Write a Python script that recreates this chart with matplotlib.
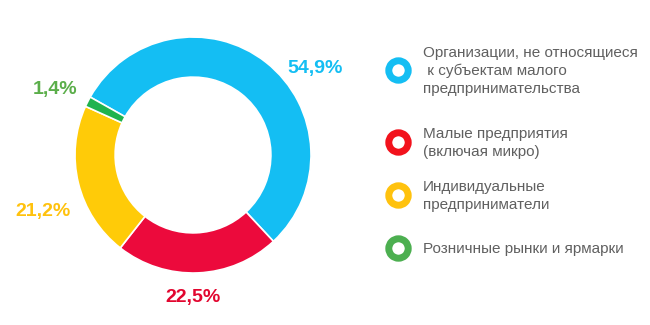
import matplotlib.pyplot as plt
from matplotlib.lines import Line2D

plt.rcParams['font.family'] = ['Liberation Sans', 'DejaVu Sans']

categories = [
    "Организации, не относящиеся\n к субъектам малого\nпредпринимательства",
    "Малые предприятия\n(включая микро)",
    "Индивидуальные\nпредприниматели",
    "Розничные рынки и ярмарки",
]
shares = [54.9, 22.5, 21.2, 1.4]
share_labels = ["54,9%", "22,5%", "21,2%", "1,4%"]
colors = ['#14BEF3', '#EC0A3C', '#FFCB08', '#1FB34E']
legend_colors = ['#14BEF3', '#F2121C', '#FFC20E', '#4CAF50']
label_colors = ['#14BEF3', '#E2062F', '#FFC20E', '#5BAE4A']
# label positions in figure fractions (placed by hand as in the original)
label_pos = [(0.485, 0.79), (0.297, 0.085), (0.066, 0.348), (0.085, 0.725)]
# legend rows: marker centre, in pixels from the top
legend_rows = [70, 142, 195, 248]

W, H = 650, 325
fig = plt.figure(figsize=(6.5, 3.25), dpi=100)

# donut
w = 236 / W
h = 236 / H
ax = fig.add_axes([193 / W - w / 2, 1 - 155 / H - h / 2, w, h])
ax.pie(shares, colors=colors, startangle=150.6, counterclock=False,
       radius=1.0, wedgeprops=dict(width=0.34, edgecolor='white', linewidth=1.2))
ax.set_xlim(-1.0, 1.0)
ax.set_ylim(-1.0, 1.0)
ax.set_aspect('equal')
ax.axis('off')

for txt, (x, y), c in zip(share_labels, label_pos, label_colors):
    fig.text(x, y, txt, color=c, fontsize=14, fontweight='bold',
             ha='center', va='center')

# legend drawn by hand: ring marker + text
for label, c, yp in zip(categories, legend_colors, legend_rows):
    fig.add_artist(Line2D([398 / W], [1 - yp / H], transform=fig.transFigure,
                          linestyle='none', marker='o', markersize=14,
                          markerfacecolor='white', markeredgecolor=c,
                          markeredgewidth=5))
    fig.text(423 / W, 1 - (yp + 1) / H, label, fontsize=11, color='#606060',
             ha='left', va='center', linespacing=1.3)

fig.savefig('out.png', dpi=100)
